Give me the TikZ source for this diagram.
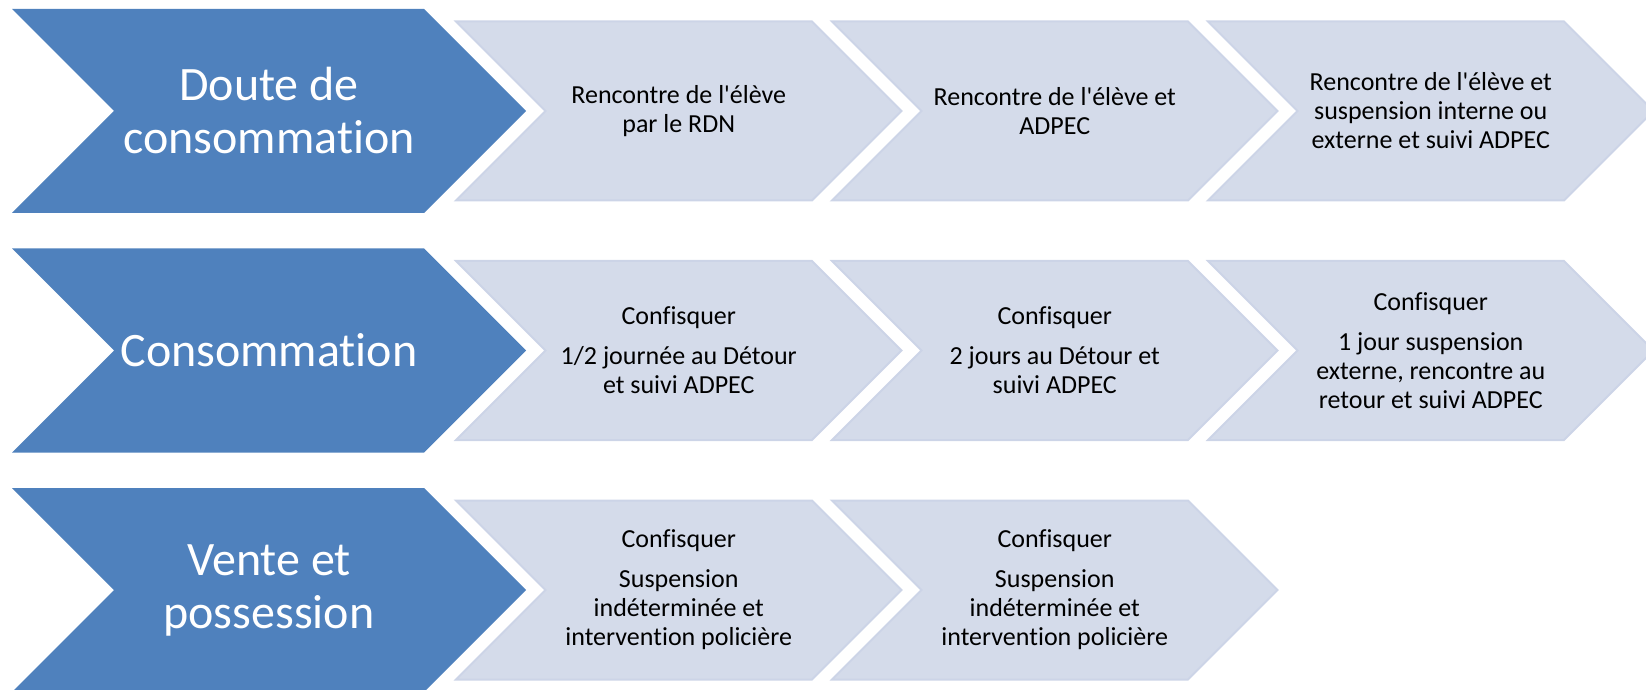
\documentclass[tikz,border=0pt]{standalone}
\usepackage{fontspec}
\setmainfont{Carlito}[RawFeature={-liga;-clig;-calt;-dlig}]
\usepackage{tikz}
\usepackage{xcolor}
\definecolor{stageblue}{HTML}{4F81BD}
\definecolor{steplight}{HTML}{D4DBEA}
\definecolor{stepedge}{HTML}{CCD4E7}
% left x, centre y, flat length, half height
\newcommand{\chevronpath}[4]{(#1,#2-#4) -- ++(#3,0) -- ++(#4,#4) -- ++(-#4,#4) -- ++(-#3,0) -- ++(#4,-#4) -- cycle}
\newcommand{\q}{\textquotesingle}
\tikzset{
    stage-arrow/.style = {fill=stageblue},
    step-arrow/.style = {fill=steplight, draw=stepedge, line width=1pt},
    stage-text/.style = {text=white, align=center, font=\fontsize{24}{26.5}\selectfont},
    step-text/.style = {text=black, align=center, font=\fontsize{13}{14.5}\selectfont},
}

\begin{document}
\begin{tikzpicture}[x=0.5pt, y=-0.5pt]
\useasboundingbox (0,0) rectangle (1646,690);
\clip (0,0) rectangle (1646,690);

\fill[stage-arrow] \chevronpath{12}{111}{412}{102};
\node[stage-text] (doute) at (269,111) {Doute de\\consommation};
\path[step-arrow] \chevronpath{456}{111}{356}{89.5};
\node[step-text] (doute-a) at (678.75,111) {Rencontre de l\q élève\\par le RDN};
\path[step-arrow] \chevronpath{832}{111}{356}{89.5};
\node[step-text] (doute-b) at (1054.75,111) {Rencontre de l\q élève et\\ADPEC};
\path[step-arrow] \chevronpath{1208}{111}{356}{89.5};
\node[step-text] (doute-c) at (1430.75,111) {Rencontre de l\q élève et\\suspension interne ou\\externe et suivi ADPEC};

\fill[stage-arrow] \chevronpath{12}{350.5}{412}{102};
\node[stage-text] (conso) at (269,350.5) {Consommation};
\path[step-arrow] \chevronpath{456}{350.5}{356}{89.5};
\node[step-text] (conso-a) at (678.75,350.5) {Confisquer\\[5.5pt]1/2 journée au Détour\\et suivi ADPEC};
\path[step-arrow] \chevronpath{832}{350.5}{356}{89.5};
\node[step-text] (conso-b) at (1054.75,350.5) {Confisquer\\[5.5pt]2 jours au Détour et\\suivi ADPEC};
\path[step-arrow] \chevronpath{1208}{350.5}{356}{89.5};
\node[step-text] (conso-c) at (1430.75,350.5) {Confisquer\\[5.5pt]1 jour suspension\\externe, rencontre au\\retour et suivi ADPEC};

\fill[stage-arrow] \chevronpath{12}{590}{412}{102};
\node[stage-text] (vente) at (269,590) {Vente et\\possession};
\path[step-arrow] \chevronpath{456}{590}{356}{89.5};
\node[step-text] (vente-a) at (678.75,590) {Confisquer\\[5.5pt]Suspension\\indéterminée et\\intervention policière};
\path[step-arrow] \chevronpath{832}{590}{356}{89.5};
\node[step-text] (vente-b) at (1054.75,590) {Confisquer\\[5.5pt]Suspension\\indéterminée et\\intervention policière};
\end{tikzpicture}
\end{document}
